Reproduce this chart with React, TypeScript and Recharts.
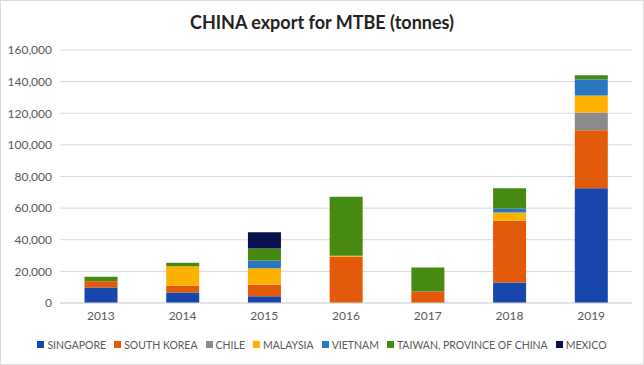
import { Bar, BarChart, CartesianGrid, Legend, XAxis, YAxis } from "recharts";

const YEARS = ["2013", "2014", "2015", "2016", "2017", "2018", "2019"];

const SINGAPORE = [9800, 6700, 4200, 0, 0, 13000, 72500];
const SOUTH_KOREA = [3900, 4200, 7400, 29300, 7300, 39000, 36700];
const CHILE = [0, 0, 0, 0, 0, 0, 11200];
const MALAYSIA = [0, 12300, 10300, 600, 0, 5300, 10900];
const VIETNAM = [0, 0, 4900, 0, 0, 2500, 10000];
const TAIWAN = [2900, 2300, 7600, 37300, 15200, 12700, 2700];
const MEXICO = [0, 0, 10300, 0, 0, 0, 0];

const Y_TICKS = [0, 20000, 40000, 60000, 80000, 100000, 120000, 140000, 160000];

const SERIES = [
  { key: "singapore", name: "SINGAPORE", values: SINGAPORE, color: "#1747ad" },
  { key: "southKorea", name: "SOUTH KOREA", values: SOUTH_KOREA, color: "#e35b0a" },
  { key: "chile", name: "CHILE", values: CHILE, color: "#8a8a8a" },
  { key: "malaysia", name: "MALAYSIA", values: MALAYSIA, color: "#fdb100" },
  { key: "vietnam", name: "VIETNAM", values: VIETNAM, color: "#2a78c4" },
  { key: "taiwan", name: "TAIWAN, PROVINCE OF CHINA", values: TAIWAN, color: "#478a12" },
  { key: "mexico", name: "MEXICO", values: MEXICO, color: "#0a0f4e" },
];

const data = YEARS.map((year, i) => {
  const row: Record<string, string | number> = { year };
  SERIES.forEach((s) => {
    row[s.key] = s.values[i];
  });
  return row;
});

const FONT = "Lato, 'Open Sans', sans-serif";

function LegendContent() {
  return (
    <div
      style={{
        height: 26,
        width: 642,
        boxSizing: "border-box",
        paddingTop: 7,
        display: "flex",
        justifyContent: "center",
        gap: 8,
        fontSize: 10.5,
        fontFamily: FONT,
        color: "#595959",
        lineHeight: "14px",
        whiteSpace: "nowrap",
      }}
    >
      {SERIES.map((s) => (
        <span key={s.key} style={{ display: "flex", alignItems: "center" }}>
          <span
            style={{
              width: 7,
              height: 7,
              background: s.color,
              display: "inline-block",
              marginRight: 3,
            }}
          />
          {s.name}
        </span>
      ))}
    </div>
  );
}

export default function App() {
  return (
    <div
      style={{
        position: "absolute",
        left: 0,
        top: 0,
        width: 642,
        height: 363,
        border: "1px solid #d9d9d9",
        background: "#fff",
        fontFamily: FONT,
      }}
    >
      <div
        style={{
          position: "absolute",
          top: 10,
          left: 0,
          width: 642,
          textAlign: "center",
          fontSize: 18,
          fontWeight: 700,
          color: "#222",
        }}
      >
        CHINA export for MTBE (tonnes)
      </div>
      <BarChart
        width={642}
        height={363}
        data={data}
        margin={{ top: 49, right: 11, bottom: 10, left: 0 }}
        barCategoryGap="30%"
      >
        <CartesianGrid vertical={false} stroke="#d9d9d9" />
        <XAxis
          dataKey="year"
          tickLine={false}
          axisLine={{ stroke: "#d9d9d9" }}
          tick={{ fontSize: 12, fill: "#595959", fontFamily: FONT }}
          height={25}
        />
        <YAxis
          width={59}
          domain={[0, 160000]}
          ticks={Y_TICKS}
          axisLine={false}
          tickLine={false}
          tick={{ fontSize: 12, fill: "#595959", fontFamily: FONT }}
          tickFormatter={(v: number) => v.toLocaleString("en-US")}
        />
        <Legend
          verticalAlign="bottom"
          height={26}
          width={642}
          wrapperStyle={{ left: 0, width: 642 }}
          content={<LegendContent />}
        />
        {SERIES.map((s) => (
          <Bar
            key={s.key}
            dataKey={s.key}
            name={s.name}
            stackId="a"
            fill={s.color}
            isAnimationActive={false}
          />
        ))}
      </BarChart>
    </div>
  );
}
